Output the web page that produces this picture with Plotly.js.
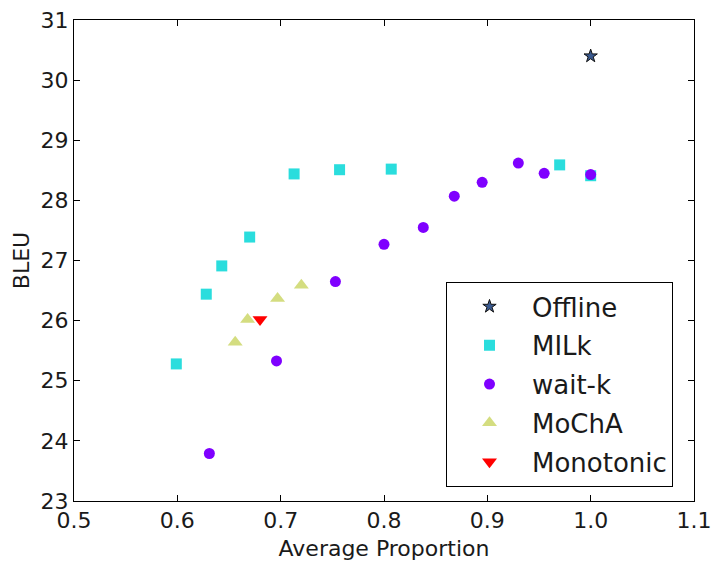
<!DOCTYPE html>
<html>
<head>
<meta charset="utf-8">
<script src="https://cdn.plot.ly/plotly-3.0.1.min.js"></script>
<style>
  html, body { margin: 0; padding: 0; background: #fff; }
  #chart { width: 721px; height: 569px; }
</style>
</head>
<body>
<div id="chart"></div>
<script>
// Latency (average proportion) vs. quality (BLEU) for each decoding policy
const offlineAP = [1.0];
const offlineBLEU = [30.4];

const milkAP = [0.599, 0.628, 0.643, 0.670, 0.713, 0.757, 0.807, 0.970, 1.0];
const milkBLEU = [25.28, 26.44, 26.91, 27.39, 28.44, 28.51, 28.52, 28.59, 28.41];

const waitkAP = [0.631, 0.696, 0.753, 0.800, 0.838, 0.868, 0.895, 0.930, 0.955, 1.0];
const waitkBLEU = [23.79, 25.33, 26.65, 27.27, 27.55, 28.07, 28.30, 28.62, 28.45, 28.43];

const mochaAP = [0.656, 0.668, 0.697, 0.720];
const mochaBLEU = [25.64, 26.02, 26.37, 26.59];

const monoAP = [0.680];
const monoBLEU = [26.02];

const xTicks = [0.5, 0.6, 0.7, 0.8, 0.9, 1.0, 1.1];
const xTickText = ['0.5', '0.6', '0.7', '0.8', '0.9', '1.0', '1.1'];
const yTicks = [23, 24, 25, 26, 27, 28, 29, 30, 31];

const FONT = 'DejaVu Sans, sans-serif';
const INK = '#1a1a1a';

const traces = [
  { name: 'Offline', legendgroup: 'g1', x: offlineAP, y: offlineBLEU, type: 'scatter', mode: 'markers',
    marker: { symbol: 'star', size: 10, color: '#3a5a90', line: { color: '#111111', width: 1 } } },
  { name: 'MILk', legendgroup: 'g2', x: milkAP, y: milkBLEU, type: 'scatter', mode: 'markers',
    marker: { symbol: 'square', size: 11, color: '#2adddd', line: { width: 0 } } },
  { name: 'wait-k', legendgroup: 'g3', x: waitkAP, y: waitkBLEU, type: 'scatter', mode: 'markers',
    marker: { symbol: 'circle', size: 11, color: '#7f00ff', line: { width: 0 } } },
  { name: 'MoChA', legendgroup: 'g4', x: mochaAP, y: mochaBLEU, type: 'scatter', mode: 'markers',
    marker: { symbol: 'triangle-up', size: 13, color: '#d4dd80', line: { width: 0 } } },
  { name: 'Monotonic', legendgroup: 'g5', x: monoAP, y: monoBLEU, type: 'scatter', mode: 'markers',
    marker: { symbol: 'triangle-down', size: 13, color: '#ff0000', line: { width: 0 } } }
];

const axisCommon = {
  showgrid: false, zeroline: false,
  showline: true, linecolor: '#000', linewidth: 1, mirror: 'ticks',
  ticks: 'inside', ticklen: 6, tickwidth: 1, tickcolor: '#000',
  tickfont: { family: FONT, size: 22, color: INK }
};

const layout = {
  width: 721, height: 569,
  margin: { l: 74, r: 27, t: 20, b: 68 },
  paper_bgcolor: '#fff', plot_bgcolor: '#fff',
  showlegend: true,
  xaxis: Object.assign({}, axisCommon, {
    range: [0.5, 1.1], tickvals: xTicks, ticktext: xTickText,
    title: { text: 'Average Proportion', font: { family: FONT, size: 22, color: INK }, standoff: 8 }
  }),
  yaxis: Object.assign({}, axisCommon, {
    range: [23, 31], tickvals: yTicks,
    title: { text: 'BLEU', font: { family: FONT, size: 22, color: INK }, standoff: 4 }
  }),
  legend: {
    x: 0.6, y: 0.029, xanchor: 'left', yanchor: 'bottom',
    bgcolor: '#fff', bordercolor: '#000', borderwidth: 1,
    font: { family: FONT, size: 26, color: INK },
    itemwidth: 75, tracegroupgap: 2, traceorder: 'grouped'
  }
};

Plotly.newPlot('chart', traces, layout, { displayModeBar: false, staticPlot: true });
</script>
</body>
</html>
